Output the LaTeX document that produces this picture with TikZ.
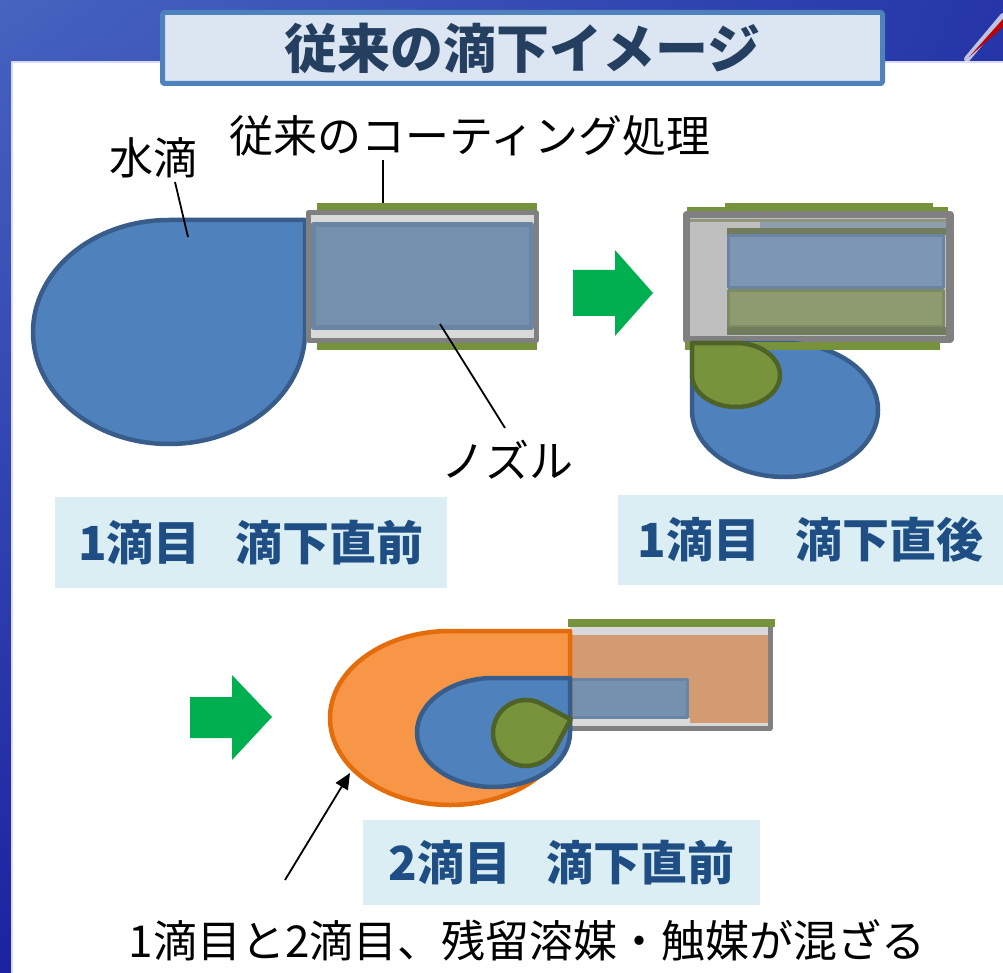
\documentclass[tikz,border=0pt]{standalone}
\usepackage{fontspec}
\newfontfamily\jp{Noto Sans CJK JP}
\usetikzlibrary{arrows.meta,shadings}

\definecolor{bgA}{HTML}{4664C0}
\definecolor{bgB}{HTML}{2636A8}
\definecolor{bgC}{HTML}{1C22A0}
\definecolor{bgD}{HTML}{1E2AA4}
\definecolor{titlefill}{HTML}{DCE6F2}
\definecolor{titleline}{HTML}{4F81BD}
\definecolor{titletext}{HTML}{243F60}
\definecolor{capfill}{HTML}{DBEEF4}
\definecolor{captext}{HTML}{1F4E84}
\definecolor{waterfill}{HTML}{4F81BD}
\definecolor{waterline}{HTML}{385D8A}
\definecolor{resfill}{HTML}{77933C}
\definecolor{resline}{HTML}{4F6228}
\definecolor{orfill}{HTML}{F79646}
\definecolor{orline}{HTML}{E46C0A}
\definecolor{coat}{HTML}{76923C}
\definecolor{tube}{HTML}{808080}
\definecolor{tubelight}{HTML}{D9D9D9}
\definecolor{bore}{HTML}{7591B0}
\definecolor{boreline}{HTML}{6A84A3}
\definecolor{tan}{HTML}{D29B72}
\definecolor{mixgreen}{HTML}{8D9B6E}
\definecolor{mixline}{HTML}{7C8A66}
\definecolor{arrowgreen}{HTML}{00B050}

% drop with a square top-right corner: centre (#2,#3), radii #4, #5
\newcommand{\dropTR}[5]{%
  \path[#1] ({#2},{#3-#5}) -- ({#2+#4},{#3-#5}) -- ({#2+#4},{#3})
    arc[start angle=0,end angle=180,x radius=#4,y radius=#5]
    arc[start angle=180,end angle=270,x radius=#4,y radius=#5] -- cycle;}
% drop with a square top-left corner
\newcommand{\dropTL}[5]{%
  \path[#1] ({#2-#4},{#3}) -- ({#2-#4},{#3-#5}) -- ({#2},{#3-#5})
    arc[start angle=270,end angle=360,x radius=#4,y radius=#5]
    arc[start angle=0,end angle=180,x radius=#4,y radius=#5] -- cycle;}
% gap between the two parts of a caption
\newcommand{\capgap}{\hspace{0.75em}}

\begin{document}
\begin{tikzpicture}[x=1pt,y=-1pt,line join=round,
  water/.style={fill=waterfill,draw=waterline,line width=4.5pt},
  residue/.style={fill=resfill,draw=resline,line width=4.5pt},
  second/.style={fill=orfill,draw=orline,line width=4.5pt},
  coating/.style={fill=coat},
  blockarrow/.style={fill=arrowgreen},
  leader/.style={draw=black,line width=1.8pt},
  plain/.style={font=\jp\fontsize{44}{50}\selectfont,inner sep=0pt},
  caption/.style={fill=capfill,text=captext,inner sep=0pt,
    font=\jp\bfseries\fontsize{47}{52}\selectfont},
  titlebox/.style={fill=titlefill,draw=titleline,line width=5pt,rounded corners=2pt,
    text=titletext,inner sep=0pt,minimum width=720,minimum height=71,
    font=\jp\bfseries\fontsize{53}{58}\selectfont}]
\useasboundingbox (0,0) rectangle (1003,973);

% frame: blue band and white sheet
\shade[upper left=bgA,upper right=bgB,lower left=bgC,lower right=bgD] (0,0) rectangle (1003,973);
\fill[white] (12,62) rectangle (1003,973);
\draw[blue!15,line width=2pt] (12,973) -- (12,62) -- (1003,62);
\draw[white,opacity=.7,line width=6pt,line cap=round] (967,59) -- (1003,16);
\fill[red!75!black] (969,57) -- (1003,19) -- (1003,27) -- cycle;

% title
\node[titlebox] (title) at (522.5,48) {従来の滴下イメージ};

% ---- stage 1: first drop before release ----
\dropTR{water}{169}{332}{136}{112}
\fill[coating] (317,203) rectangle (537,211);
\fill[coating] (317,343) rectangle (537,350);
\draw[tube,fill=tubelight,line width=5pt] (308,213) rectangle (536,340);
\draw[boreline,fill=bore,line width=5pt] (313,225) rectangle (531,327);

\node[plain] (lblwater) at (153,158) {水滴};
\node[plain] (lblcoat) at (470,136) {従来のコーティング処理};
\node[plain] (lblnozzle) at (507,460) {ノズル};
\coordinate (w0) at (175,182);
\coordinate (w1) at (188,237);
\coordinate (c0) at (383,160);
\coordinate (c1) at (383,203);
\coordinate (n0) at (505,428);
\coordinate (n1) at (440,324);
\draw[leader] (w0) -- (w1);
\draw[leader] (c0) -- (c1);
\draw[leader] (n0) -- (n1);

\node[caption,minimum width=392,minimum height=91] (cap1) at (251,542.5) {1滴目\capgap 滴下直前};

% arrow 1
\path[blockarrow] (573,270) -- (615,270) -- (615,250) -- (653,293) -- (615,336)
  -- (615,316) -- (573,316) -- cycle;

% ---- stage 2: right after release ----
\fill[coating] (725,203) rectangle (933,208);
\fill[coating] (687,207) rectangle (948,212);
\draw[tube,fill=black!25,line width=7pt] (686,215) rectangle (950,339);
\fill[black!45!coat!60!white] (690,219) rectangle (946,222);
\fill[black!20!bore!70!white] (760,222) rectangle (946,228);
\fill[black!10!mixline] (727,228) rectangle (946,235);
\draw[boreline,fill=bore!95!white,line width=3pt] (728,236) rectangle (943,288);
\draw[mixline,fill=mixgreen,line width=3pt] (728,291) rectangle (943,326);
\fill[black!10!mixline] (727,327) rectangle (946,335);
\draw[tube,line width=2pt] (947,215) -- (947,339);

\dropTL{water}{785}{410}{93}{67}
\fill[coating] (685,342) rectangle (940,350);
\dropTL{residue}{736}{375}{44}{32}

\node[caption,minimum width=385,minimum height=90,anchor=west] (cap2) at (618,540) {1滴目\capgap 滴下直後};

% arrow 2
\path[blockarrow] (190,697) -- (232,697) -- (232,675) -- (272,717) -- (232,760)
  -- (232,738) -- (190,738) -- cycle;

% ---- stage 3: second drop before release ----
\fill[coating] (568,619) rectangle (775,627);
\fill[tubelight] (570,627) rectangle (770,728);
\fill[tan] (570,635) rectangle (768,723);
\fill[tubelight] (570,718) rectangle (690,727);
\draw[boreline,fill=bore,line width=3pt] (570,679.5) -- (687,679.5) -- (687,717) -- (570,717);
\draw[tube,line width=5pt] (770,627) -- (770,728) -- (570,728);

\dropTR{second}{450}{718}{120}{87}
\dropTR{water}{493.5}{732.5}{76.5}{54.5}
\begin{scope}[shift={(526,733)},rotate=-28]
  \dropTR{residue}{0}{0}{33}{33}
\end{scope}

\node[caption,minimum width=397,minimum height=85] (cap3) at (561.5,862.5) {2滴目\capgap 滴下直前};
\node[plain] (lblmix) at (527,940) {1滴目と2滴目、残留溶媒・触媒が混ざる};
\coordinate (m0) at (285,880);
\coordinate (m1) at (350,773);
\draw[leader,-{Triangle[length=16pt,width=14pt]}] (m0) -- (m1);
\end{tikzpicture}
\end{document}
